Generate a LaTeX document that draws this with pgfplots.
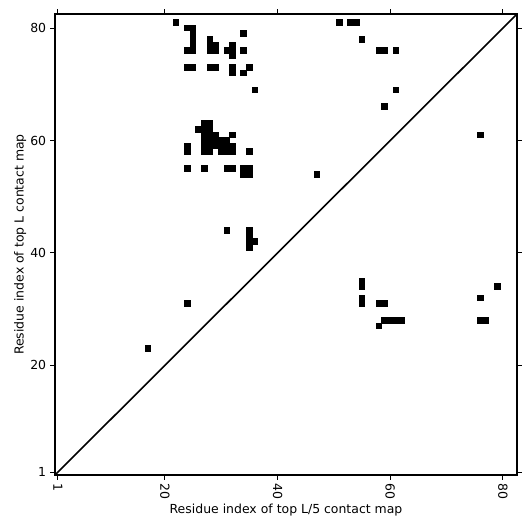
\documentclass[border=0pt]{standalone}
\usepackage{fontspec}
\setmainfont{DejaVu Sans}
\usepackage{pgfplots}
\pgfplotsset{compat=1.18}
\begin{document}
\fontsize{12.5}{15}\selectfont
\begin{tikzpicture}
\begin{axis}[
  scale only axis, width=462bp, height=461bp, at={(0,0)}, anchor=south west,
  xmin=0.5, xmax=82.5, ymin=0.5, ymax=82.5,
  xtick={1,20,40,60,80}, ytick={1,20,40,60,80},
  tick align=outside, tick pos=both,
  xticklabel pos=lower, yticklabel pos=left,
  major tick length=4.5bp,
  tick style={black, line width=0.9bp},
  axis line style={line width=1.3bp},
  /pgf/number format/assume math mode=true,
  ticklabel style={font=\fontsize{12.5}{15}\selectfont},
  x tick label style={rotate=-90, anchor=west},
  label style={font=\fontsize{12.5}{15}\selectfont},
  xlabel={Residue index of top L/5 contact map},
  ylabel={Residue index of top L contact map},
  xlabel style={yshift=4bp},
  ylabel style={yshift=-4.5bp},
  clip=true,
]
\addplot[only marks, mark=square*, mark size=2.82bp, mark options={fill=black, draw=black, line width=0pt}] coordinates {
(22,81)
(24,80)(25,80)(25,79)(25,78)(25,77)(24,76)(25,76)
(28,78)(28,77)(29,77)(28,76)(29,76)
(31,76)(32,77)(32,76)(32,75)
(34,79)(34,76)
(24,73)(25,73)(28,73)(29,73)(32,73)(32,72)(34,72)(35,73)
(36,69)
(51,81)(53,81)(54,81)(55,78)(58,76)(59,76)(61,76)(61,69)(59,66)
(27,63)(28,63)
(26,62)(27,62)(28,62)
(27,61)(28,61)(29,61)(32,61)
(27,60)(28,60)(29,60)(30,60)(31,60)
(27,59)(28,59)(29,59)(30,59)(31,59)(32,59)
(27,58)(28,58)(30,58)(31,58)(32,58)
(24,59)(24,58)(35,58)
(76,61)
(24,55)(27,55)(31,55)(32,55)(34,55)(35,55)(34,54)(35,54)
(47,54)
(31,44)(35,44)(35,43)(35,42)(35,41)(36,42)
(55,35)(55,34)(55,32)(55,31)(58,31)(59,31)
(59,28)(60,28)(61,28)(62,28)(58,27)
(79,34)(76,32)(76,28)(77,28)
(24,31)(17,23)
};
\addplot[black, line width=1.6bp] coordinates {(0.5,0.5)(82.5,82.5)};
\end{axis}
\pgfresetboundingbox
\path[use as bounding box] (-55bp,-56bp) rectangle (476bp,475bp);
\end{tikzpicture}
\end{document}
